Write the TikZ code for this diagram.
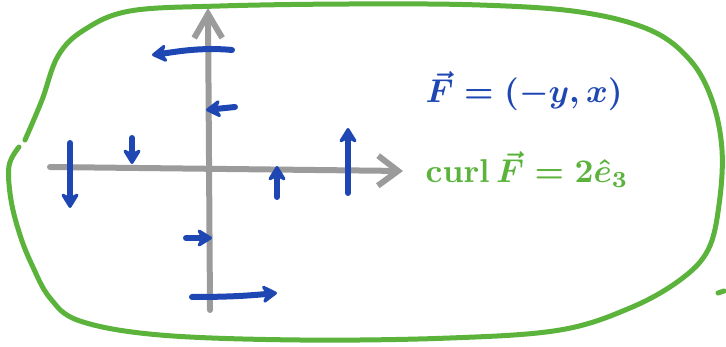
\documentclass[tikz,border=0pt]{standalone}
\usepackage{amsmath}
\usepackage{tikz}
\usetikzlibrary{arrows.meta}
\definecolor{InkBlue}{HTML}{1E47B4}
\definecolor{InkGreen}{HTML}{5BB33C}
\definecolor{InkGray}{HTML}{9B9B9B}
\begin{document}
\begin{tikzpicture}[x=1pt, y=-1pt, line cap=round, line join=round,
    axisline/.style={InkGray, line width=6pt},
    fieldvec/.style={InkBlue, line width=6pt, -{Stealth[round, length=18pt, width=22pt]}},
    penfont/.style={scale=3.3, transform shape, anchor=base west, inner sep=0pt, font=\boldmath}]
      \useasboundingbox (0,0) rectangle (726,347);
      %% Outline of the region
      \draw[InkGreen, line width=5pt] plot[smooth, tension=0.6] coordinates {
        (19,147) (9,166) (11,200) (20,235) (32,265) (50,298) (80,321) (160,335)
        (300,340) (450,338) (560,330) (630,308) (680,280) (708,250) (719,205)
        (722,150) (712,100) (690,60) (650,30) (580,12) (480,5) (350,4) (220,6)
        (130,11) (84,30) (58,56) (42,100) (25,140)};
      \draw[InkGreen, line width=5pt] (718,293) -- (724,291);
      %% Axes
      \draw[axisline, -{Straight Barb[length=20pt, width=30pt]}] (50,167) -- (403,171);
      \draw[axisline, -{Straight Barb[length=24pt, width=28pt]}] (210,310) -- (208,8);
      %% Field F = (-y, x)
      \draw[fieldvec] (232,50) .. controls (200,47) and (175,52) .. (152,55);
      \draw[fieldvec] (235,107) -- (206,110);
      \draw[fieldvec] (186,238) -- (212,238);
      \draw[fieldvec] (192,297) .. controls (225,297) and (245,296) .. (277,293);
      \draw[fieldvec] (70,143) -- (70,208);
      \draw[fieldvec] (132,138) -- (132,164);
      \draw[fieldvec] (277,197) -- (277,166);
      \draw[fieldvec] (348,193) -- (348,128);
      %% Labels
      \node[penfont, InkBlue] (fieldeq) at (425,103) {$\vec{F} = (-y, x)$};
      \node[penfont, InkGreen] (curleq) at (425,183) {$\mathrm{curl}\,\vec{F} = 2\hat{e}_3$};
\end{tikzpicture}
\end{document}
